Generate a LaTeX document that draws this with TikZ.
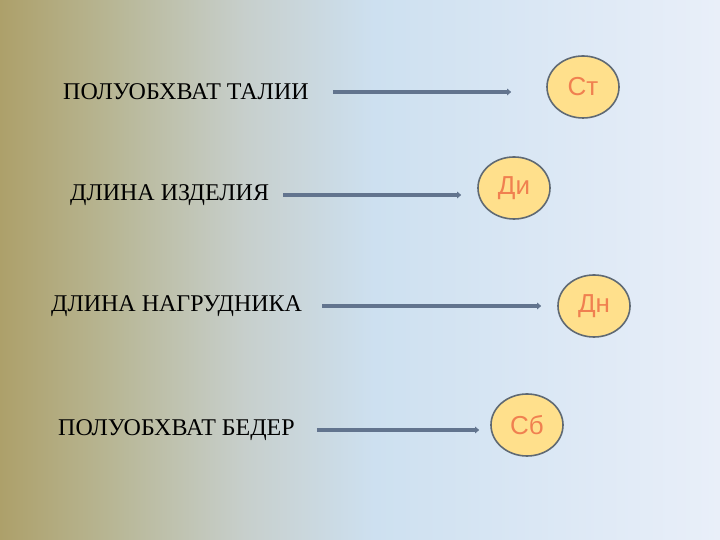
\documentclass[tikz,border=0pt]{standalone}
\usepackage{fontspec}
\setmainfont{Liberation Serif}
\newfontfamily\lblfont{Liberation Sans}
\usepackage{tikz}
\usetikzlibrary{shapes.geometric, arrows.meta}
\usepackage{xcolor}
\definecolor{bgleft}{RGB}{173,160,106}
\definecolor{bgmid}{RGB}{205,224,240}
\definecolor{bgright}{RGB}{233,239,249}
\definecolor{arrcol}{RGB}{98,116,142}
\definecolor{ovfill}{RGB}{255,224,140}
\definecolor{ovline}{RGB}{95,105,115}
\definecolor{ovtext}{RGB}{240,128,80}
\pgfdeclarehorizontalshading{slidebg}{100bp}{%
  color(0bp)=(bgleft); color(25bp)=(bgleft);
  color(33bp)=(rgb,255:red,184;green,183;blue,150);
  color(42bp)=(rgb,255:red,199;green,207;blue,204);
  color(51bp)=(bgmid);
  color(75bp)=(bgright); color(100bp)=(bgright)}

\tikzset{
  meas/.style={anchor=west, inner sep=0pt, font=\fontsize{24}{26}\selectfont},
  symb/.style={ellipse, draw=ovline, line width=1.6pt, fill=ovfill, minimum width=72pt, minimum height=62pt, inner sep=0pt, text=ovtext, font=\lblfont\fontsize{26}{28}\selectfont},
  arr/.style={arrcol, line width=3.5pt, -{Triangle[length=4pt,width=6.5pt]}}
}

\begin{document}
\begin{tikzpicture}[x=1pt, y=1pt]
  \shade[shading=slidebg] (0,0) rectangle (720,540);
  % measurements
  \node[meas] (waist) at (63,448) {ПОЛУОБХВАТ ТАЛИИ};
  \node[meas] (length) at (70,345) {ДЛИНА ИЗДЕЛИЯ};
  \node[meas] (bib) at (51,234) {ДЛИНА НАГРУДНИКА};
  \node[meas] (hips) at (58,110) {ПОЛУОБХВАТ БЕДЕР};
  % symbols
  \node[symb] (st) at (583,453) {Ст};
  \node[symb] (di) at (514,352) {Ди};
  \node[symb] (dn) at (594,234) {Дн};
  \node[symb] (sb) at (527,115) {Сб};
  % arrows
  \draw[arr, shorten <=24pt, shorten >=35pt] (waist.east) -- (waist.east -| st.west);
  \draw[arr, shorten <=14pt, shorten >=16pt] (length.east) -- (length.east -| di.west);
  \draw[arr, shorten <=20pt, shorten >=16pt] (bib.east) -- (bib.east -| dn.west);
  \draw[arr, shorten <=22pt, shorten >=11pt] (hips.east) -- (hips.east -| sb.west);
\end{tikzpicture}
\end{document}
